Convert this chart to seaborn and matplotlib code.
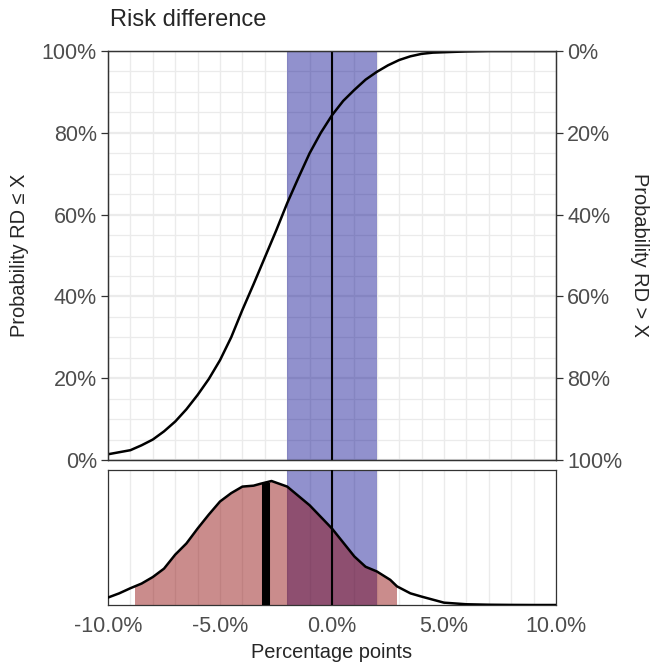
# Risk difference: posterior CDF (top) and density (bottom)
import matplotlib
matplotlib.use("Agg")
import matplotlib.pyplot as plt
import seaborn as sns
from matplotlib.patches import Rectangle

# CDF of the risk difference (percentage points)
cdf_x = [-10, -9.5, -9, -8.5, -8, -7.5, -7, -6.5, -6, -5.5, -5, -4.5, -4, -3.5,
         -3, -2.5, -2, -1.5, -1, -0.5, 0, 0.5, 1, 1.5, 2, 2.5, 3, 3.5, 4, 4.5,
         5, 6, 7, 8, 9, 10]
cdf_p = [0.014, 0.019, 0.024, 0.036, 0.050, 0.070, 0.094, 0.124, 0.159, 0.198,
         0.244, 0.300, 0.367, 0.430, 0.495, 0.560, 0.628, 0.690, 0.750, 0.800,
         0.843, 0.878, 0.905, 0.930, 0.949, 0.965, 0.978, 0.987, 0.993, 0.996,
         0.997, 0.999, 1.0, 1.0, 1.0, 1.0]

# posterior density
dens_x = [-10, -9.5, -9, -8.5, -8, -7.5, -7, -6.5, -6, -5.5, -5, -4.5, -4,
          -3.5, -3.2, -2.7, -2, -1, 0, 1, 1.5, 2, 2.6, 2.9, 3.5, 4, 5, 6, 7,
          8, 9, 10]
dens_y = [0.008, 0.0125, 0.018, 0.023, 0.030, 0.039, 0.054, 0.066, 0.082,
          0.097, 0.111, 0.120, 0.127, 0.128, 0.130, 0.133, 0.127, 0.107,
          0.082, 0.052, 0.041, 0.036, 0.027, 0.020, 0.0125, 0.009, 0.0025,
          0.0008, 0.0003, 0.0001, 0.0, 0.0]

rope = [-2.0, 2.0]          # region of practical equivalence
interval = [-8.8, 2.85]     # shaded credible interval
median_rd = -2.95
median_density = 0.131

x_ticks = [-10, -5, 0, 5, 10]
x_labels = ["-10.0%", "-5.0%", "0.0%", "5.0%", "10.0%"]
p_ticks = [0, 0.2, 0.4, 0.6, 0.8, 1.0]
p_labels_left = ["0%", "20%", "40%", "60%", "80%", "100%"]
p_labels_right = ["100%", "80%", "60%", "40%", "20%", "0%"]

sns.set_theme(style="white")
plt.rcParams['font.family'] = ['Liberation Sans', 'DejaVu Sans']

grid_col = "#ebebeb"
spine_col = "#333333"
tick_col = "#4d4d4d"
band_col = "#00008b"
fill_col = "#8b0000"

fig = plt.figure(figsize=(6.51, 6.69), dpi=100)
ax1 = fig.add_axes([108 / 651, 1 - 460 / 669, 448 / 651, 409 / 669])
ax2 = fig.add_axes([108 / 651, 1 - 605 / 669, 448 / 651, 135 / 669])

# ---- top panel: CDF
ax1.set_axisbelow(True)
ax1.set_xlim(-10, 10)
ax1.set_ylim(0, 1)
ax1.set_xticks(range(-10, 11))
ax1.set_xticklabels([])
ax1.tick_params(axis="x", length=0)
ax1.set_yticks(p_ticks)
ax1.set_yticklabels(p_labels_left)
ax1.set_yticks([i * 0.05 for i in range(21)], minor=True)
ax1.tick_params(axis="y", which="major", length=5, width=0.9, color=spine_col,
                labelcolor=tick_col, labelsize=15.5, pad=3)
ax1.tick_params(axis="y", which="minor", length=0)
ax1.grid(True, axis="x", color=grid_col, lw=1.0)
ax1.grid(True, axis="y", which="major", color=grid_col, lw=1.6)
ax1.grid(True, axis="y", which="minor", color=grid_col, lw=0.9)

ax1.axvspan(rope[0], rope[1], color=band_col, alpha=0.43, lw=0, zorder=1)
sns.lineplot(x=cdf_x, y=cdf_p, ax=ax1, color="black", lw=1.8, zorder=3)
ax1.axvline(0, color="black", lw=1.5, zorder=4)
ax1.set_xlabel("")
ax1.set_ylabel("")

ax1r = ax1.twinx()
ax1r.set_ylim(0, 1)
ax1r.set_yticks(p_ticks)
ax1r.set_yticklabels(p_labels_right)
ax1r.tick_params(axis="y", length=5, width=0.9, color=spine_col,
                 labelcolor=tick_col, labelsize=15.5, pad=3)
ax1r.grid(False)

# ---- bottom panel: density
ax2.set_axisbelow(True)
ax2.set_xlim(-10, 10)
ax2.set_ylim(0, 0.133 / 0.9185)
ax2.set_xticks(x_ticks)
ax2.set_xticklabels(x_labels)
ax2.set_xticks(range(-10, 11), minor=True)
ax2.tick_params(axis="x", which="major", length=5, width=0.9, color=spine_col,
                labelcolor=tick_col, labelsize=15.5, pad=3)
ax2.tick_params(axis="x", which="minor", length=0)
ax2.set_yticks([])
ax2.grid(True, axis="x", which="both", color=grid_col, lw=1.0)

ax2.axvspan(rope[0], rope[1], color=band_col, alpha=0.43, lw=0, zorder=1)
shade = ax2.fill_between(dens_x, dens_y, color=fill_col, alpha=0.45, lw=0, zorder=2)
shade.set_clip_path(Rectangle((interval[0], 0), interval[1] - interval[0], 1,
                              transform=ax2.transData))
sns.lineplot(x=dens_x, y=dens_y, ax=ax2, color="black", lw=1.8, zorder=3)
ax2.vlines(median_rd, 0, median_density, color="black", lw=5.8, zorder=4)
ax2.axvline(0, color="black", lw=1.5, zorder=4)
ax2.set_ylabel("")
ax2.set_xlabel("Percentage points", fontsize=14.4, labelpad=4)

for ax in (ax1, ax1r, ax2):
    for s in ax.spines.values():
        s.set_color(spine_col)
        s.set_linewidth(0.9)

fig.text(110 / 651, 1 - 20 / 669, "Risk difference", fontsize=17,
         ha="left", va="center")
fig.text(20 / 651, 1 - 255 / 669, "Probability RD \u2264 X", fontsize=14.4,
         rotation=90, ha="center", va="center")
fig.text(640 / 651, 1 - 255 / 669, "Probability RD > X", fontsize=14.4,
         rotation=270, ha="center", va="center")

fig.savefig("out.png", dpi=100)
